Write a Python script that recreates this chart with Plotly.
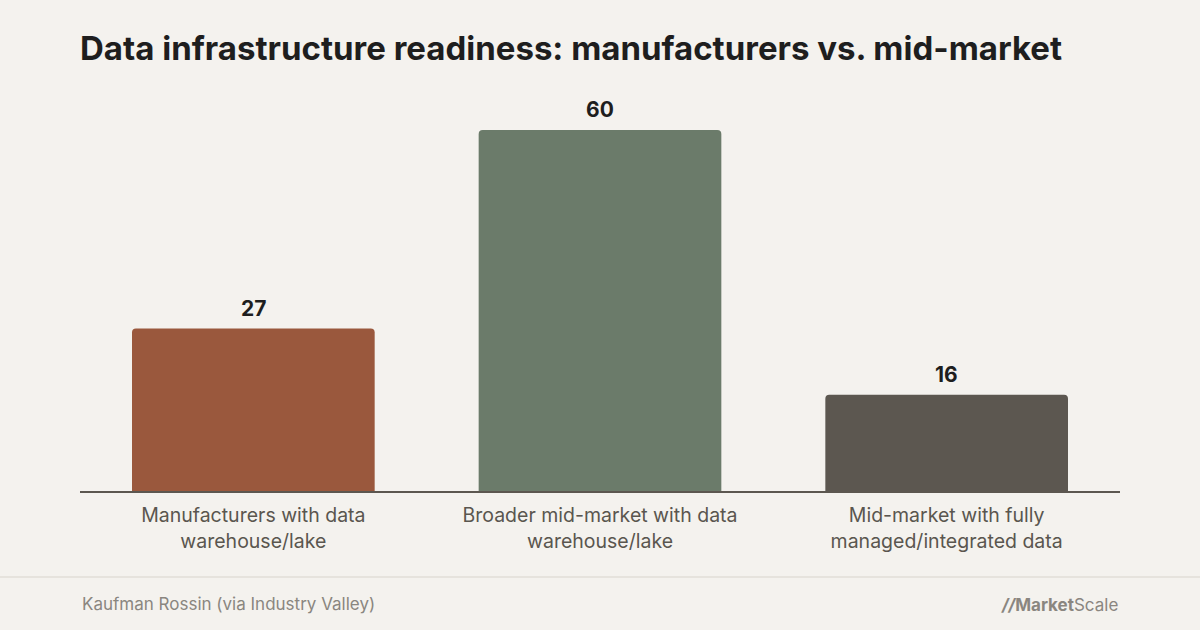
import plotly.graph_objects as go

categories = [
    "Manufacturers with data<br>warehouse/lake",
    "Broader mid-market with data<br>warehouse/lake",
    "Mid-market with fully<br>managed/integrated data",
]
values = [27, 60, 16]
colors = ["#9a583d", "#6b7b6a", "#5c5750"]

title = "Data infrastructure readiness: manufacturers vs. mid-market"
source = "Kaufman Rossin (via Industry Valley)"

W, H = 1200, 630
ml, mr, mt, mb = 80, 80, 94, 139
plot_h = H - mt - mb


def py(px):
    # pixel row -> paper y
    return (H - mb - px) / plot_h


fig = go.Figure()
fig.add_trace(go.Bar(
    x=categories,
    y=values,
    marker=dict(color=colors, line_width=0),
    hoverinfo="skip",
))

for c, v in zip(categories, values):
    fig.add_annotation(
        x=c, y=v, text="<b>%d</b>" % v, showarrow=False,
        yanchor="bottom", yshift=6,
        font=dict(family="Inter", size=21, color="#1e1e1e"),
    )

fig.add_shape(type="line", xref="paper", yref="paper",
              x0=-ml / (W - ml - mr), x1=1 + mr / (W - ml - mr),
              y0=py(577), y1=py(577),
              line=dict(color="#e6e3dd", width=2))

fig.add_annotation(
    xref="paper", yref="paper", x=0, y=py(604),
    xanchor="left", yanchor="middle", showarrow=False,
    text=source, font=dict(family="Inter", size=17, color="#8a8680"),
)
fig.add_annotation(
    xref="paper", yref="paper", x=1, y=py(605),
    xanchor="right", yanchor="middle", showarrow=False,
    text="<b><i>//</i>Market</b>Scale",
    font=dict(family="Inter", size=17, color="#8a8680"),
)

fig.update_layout(
    width=W, height=H,
    paper_bgcolor="#f4f2ee",
    plot_bgcolor="#f4f2ee",
    margin=dict(l=ml, r=mr, t=mt, b=mb),
    bargap=0.3,
    barcornerradius=4,
    showlegend=False,
    title=dict(
        text="<b>%s</b>" % title,
        x=ml / W, xanchor="left",
        y=1 - 48 / H, yanchor="middle", yref="container",
        font=dict(family="Inter", size=33, color="#1e1e1e"),
    ),
    xaxis=dict(
        showline=True, linecolor="#5c5750", linewidth=2,
        ticks="", showgrid=False, ticklabelstandoff=6,
        tickfont=dict(family="Inter", size=19.5, color="#5a564f"),
    ),
    yaxis=dict(
        range=[0, 66], visible=False, showgrid=False, zeroline=False,
    ),
)

fig.write_html("out.html", config={"displayModeBar": False},
               post_script="document.body.style.margin='0';")
